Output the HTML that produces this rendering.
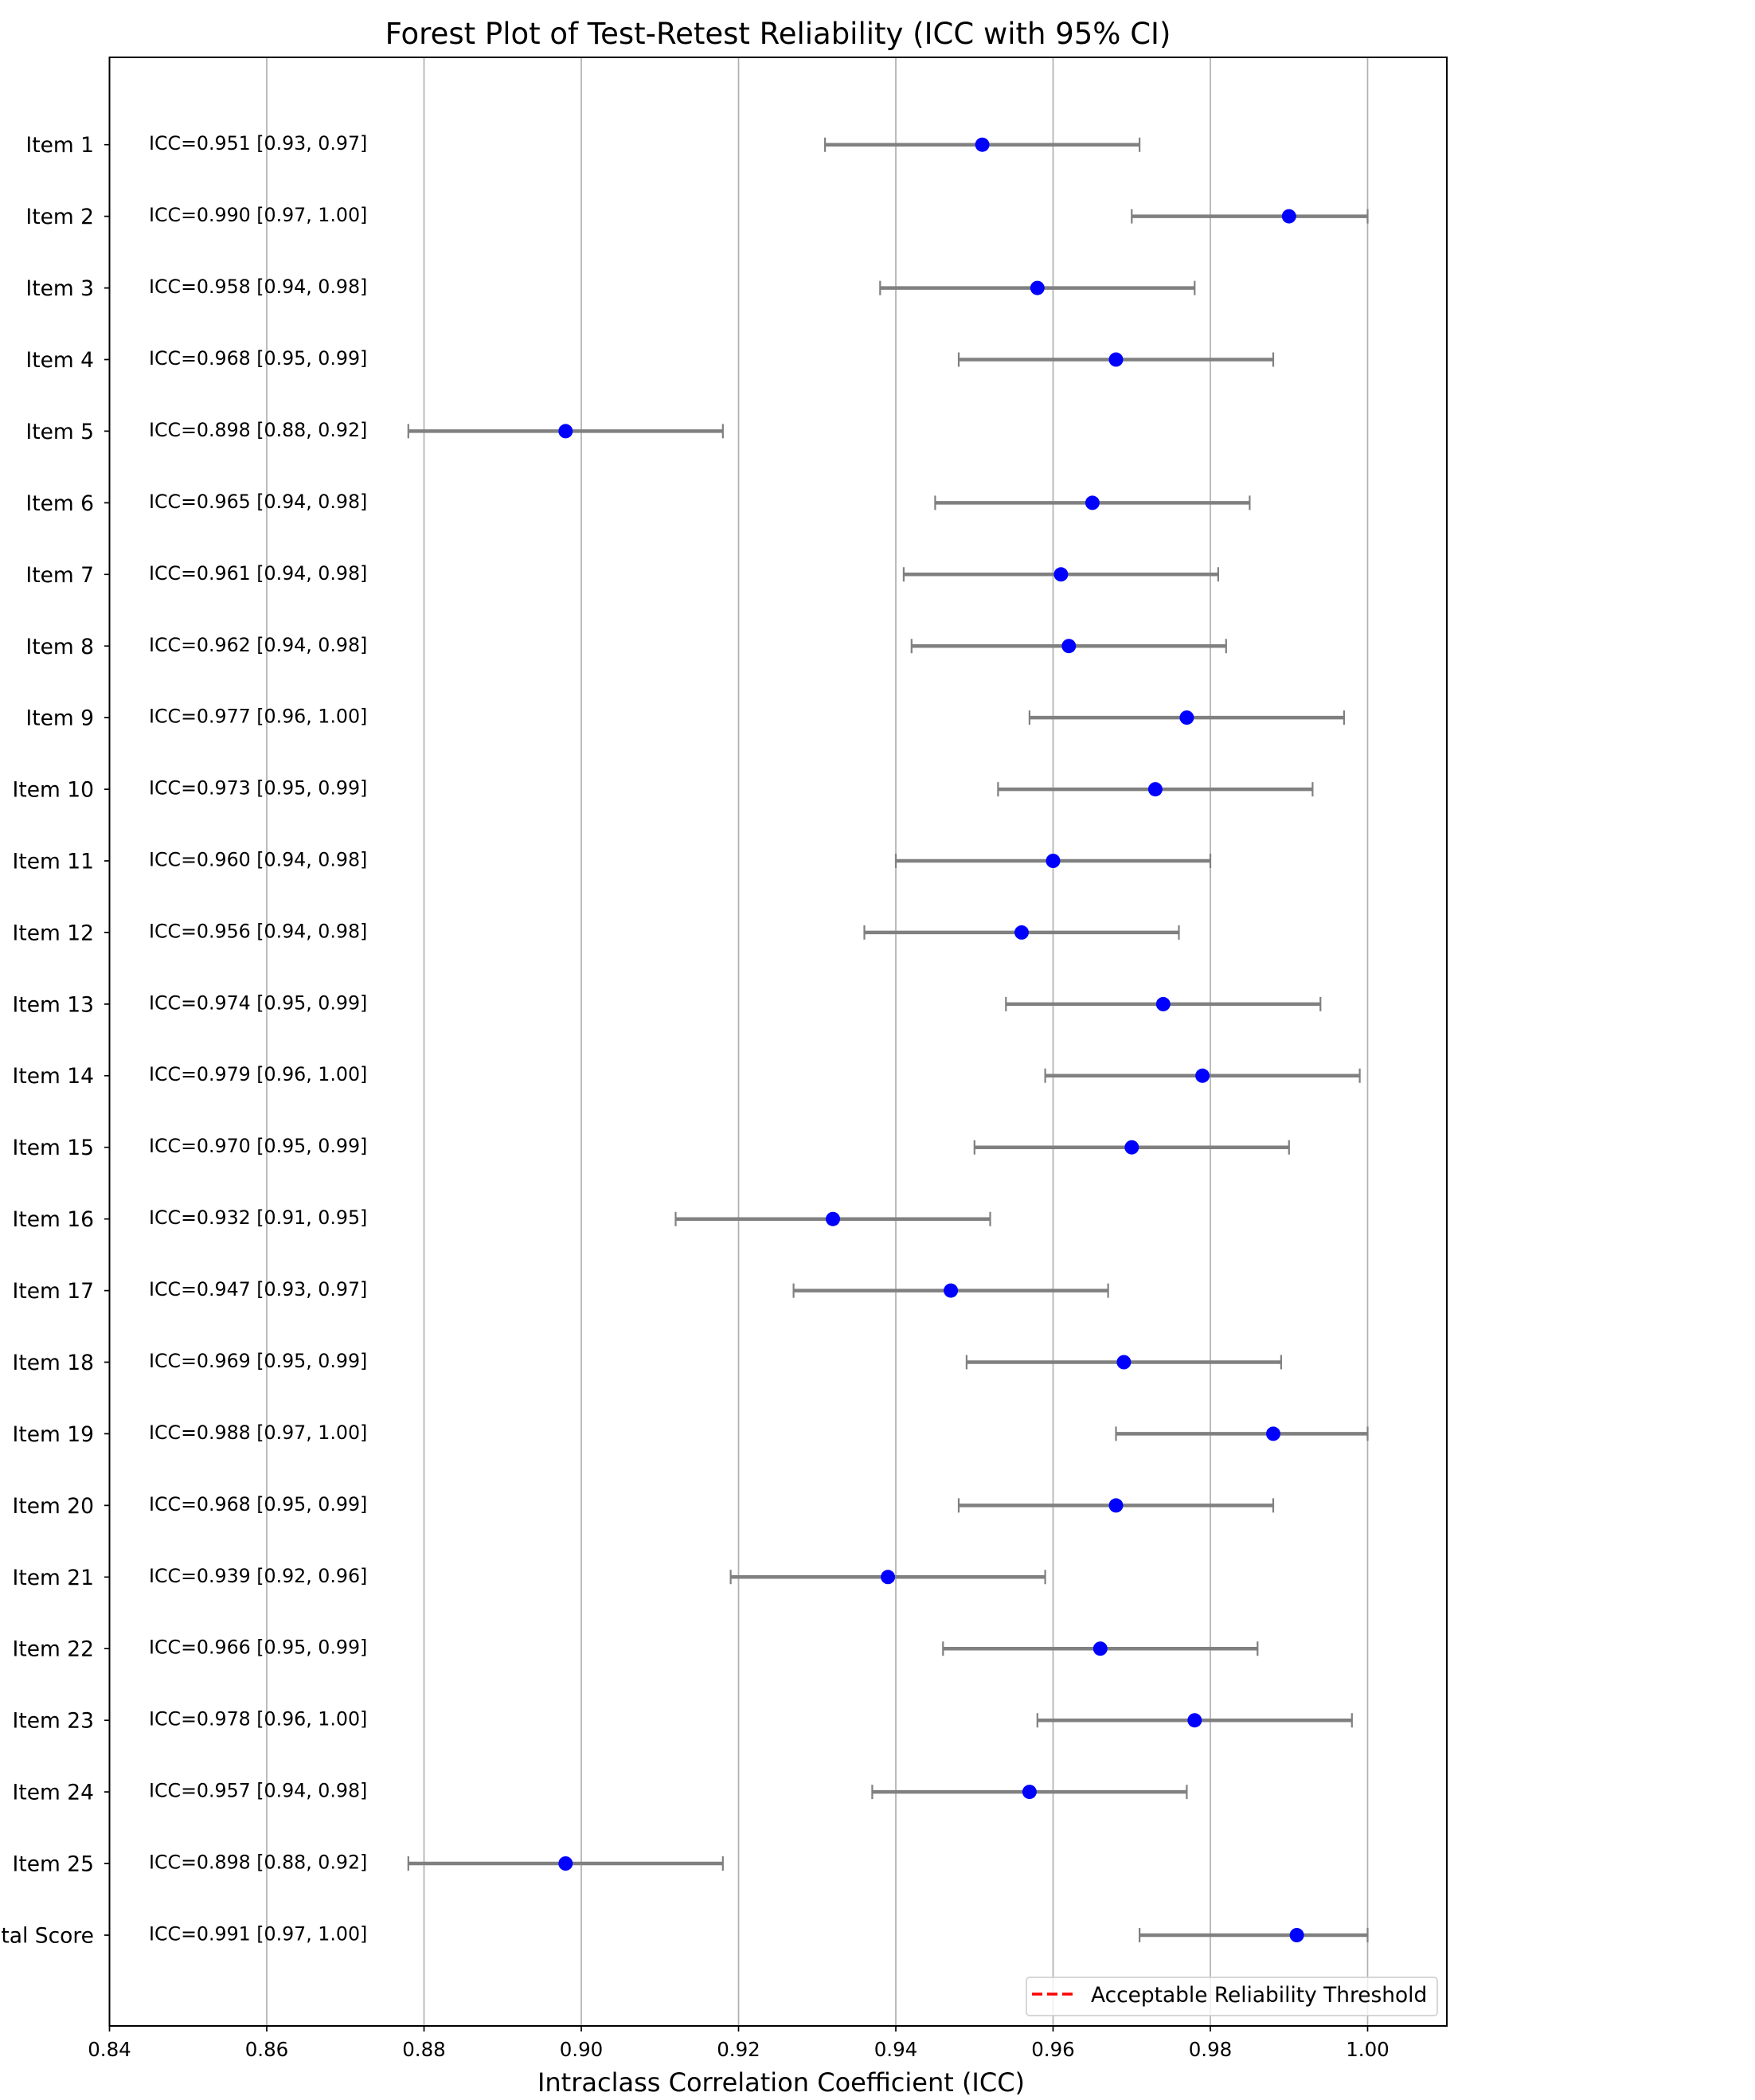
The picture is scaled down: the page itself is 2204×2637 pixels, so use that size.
<!DOCTYPE html>
<html><head><meta charset="utf-8"><style>
html,body{margin:0;padding:0;background:#fff;}
svg{display:block;font-family:"DejaVu Sans","Liberation Sans",sans-serif;}
</style></head><body>
<svg width="2204" height="2637" viewBox="0 0 2204 2637" xmlns="http://www.w3.org/2000/svg">
<rect width="2204" height="2637" fill="#fff"/>
<text x="977" y="55" font-size="37" text-anchor="middle" fill="#000">Forest Plot of Test-Retest Reliability (ICC with 95% CI)</text>
<g stroke="#b0b0b0" stroke-width="1.7">
<line x1="335" y1="72" x2="335" y2="2544"/><line x1="532.5" y1="72" x2="532.5" y2="2544"/>
<line x1="730" y1="72" x2="730" y2="2544"/><line x1="927.5" y1="72" x2="927.5" y2="2544"/>
<line x1="1125" y1="72" x2="1125" y2="2544"/><line x1="1322.5" y1="72" x2="1322.5" y2="2544"/>
<line x1="1520" y1="72" x2="1520" y2="2544"/><line x1="1717.5" y1="72" x2="1717.5" y2="2544"/>
</g>
<g stroke="#000" stroke-width="1.7">
<line x1="137.5" y1="2544" x2="137.5" y2="2551"/><line x1="335" y1="2544" x2="335" y2="2551"/>
<line x1="532.5" y1="2544" x2="532.5" y2="2551"/><line x1="730" y1="2544" x2="730" y2="2551"/>
<line x1="927.5" y1="2544" x2="927.5" y2="2551"/><line x1="1125" y1="2544" x2="1125" y2="2551"/>
<line x1="1322.5" y1="2544" x2="1322.5" y2="2551"/><line x1="1520" y1="2544" x2="1520" y2="2551"/>
<line x1="1717.5" y1="2544" x2="1717.5" y2="2551"/>
</g>
<g font-size="24.5" text-anchor="middle" fill="#000">
<text x="137.5" y="2582">0.84</text><text x="335" y="2582">0.86</text><text x="532.5" y="2582">0.88</text>
<text x="730" y="2582">0.90</text><text x="927.5" y="2582">0.92</text><text x="1125" y="2582">0.94</text>
<text x="1322.5" y="2582">0.96</text><text x="1520" y="2582">0.98</text><text x="1717.5" y="2582">1.00</text>
</g>
<text x="981" y="2626" font-size="32" text-anchor="middle" fill="#000">Intraclass Correlation Coefficient (ICC)</text>

<g stroke="#808080" stroke-width="4.5">
<line x1="1036.1" y1="181.7" x2="1431.1" y2="181.7"/>
<line x1="1421.3" y1="271.6" x2="1717.5" y2="271.6"/>
<line x1="1105.3" y1="361.6" x2="1500.3" y2="361.6"/>
<line x1="1204" y1="451.5" x2="1599" y2="451.5"/>
<line x1="512.8" y1="541.4" x2="907.8" y2="541.4"/>
<line x1="1174.4" y1="631.4" x2="1569.4" y2="631.4"/>
<line x1="1134.9" y1="721.3" x2="1529.9" y2="721.3"/>
<line x1="1144.8" y1="811.2" x2="1539.8" y2="811.2"/>
<line x1="1292.9" y1="901.1" x2="1687.9" y2="901.1"/>
<line x1="1253.4" y1="991.1" x2="1648.4" y2="991.1"/>
<line x1="1125" y1="1081" x2="1520" y2="1081"/>
<line x1="1085.5" y1="1170.9" x2="1480.5" y2="1170.9"/>
<line x1="1263.3" y1="1260.9" x2="1658.3" y2="1260.9"/>
<line x1="1312.6" y1="1350.8" x2="1707.6" y2="1350.8"/>
<line x1="1223.8" y1="1440.7" x2="1618.8" y2="1440.7"/>
<line x1="848.5" y1="1530.7" x2="1243.5" y2="1530.7"/>
<line x1="996.6" y1="1620.6" x2="1391.6" y2="1620.6"/>
<line x1="1213.9" y1="1710.5" x2="1608.9" y2="1710.5"/>
<line x1="1401.5" y1="1800.4" x2="1717.5" y2="1800.4"/>
<line x1="1204" y1="1890.4" x2="1599" y2="1890.4"/>
<line x1="917.6" y1="1980.3" x2="1312.6" y2="1980.3"/>
<line x1="1184.3" y1="2070.2" x2="1579.3" y2="2070.2"/>
<line x1="1302.8" y1="2160.2" x2="1697.8" y2="2160.2"/>
<line x1="1095.4" y1="2250.1" x2="1490.4" y2="2250.1"/>
<line x1="512.8" y1="2340" x2="907.8" y2="2340"/>
<line x1="1431.1" y1="2430" x2="1717.5" y2="2430"/>
</g>
<g stroke="#808080" stroke-width="2.2">
<path d="M1036.1 172.7v18M1431.1 172.7v18M1421.3 262.6v18M1717.5 262.6v18M1105.3 352.6v18M1500.3 352.6v18M1204 442.5v18M1599 442.5v18M512.8 532.4v18M907.8 532.4v18M1174.4 622.4v18M1569.4 622.4v18M1134.9 712.3v18M1529.9 712.3v18M1144.8 802.2v18M1539.8 802.2v18M1292.9 892.1v18M1687.9 892.1v18M1253.4 982.1v18M1648.4 982.1v18M1125 1072v18M1520 1072v18M1085.5 1161.9v18M1480.5 1161.9v18M1263.3 1251.9v18M1658.3 1251.9v18M1312.6 1341.8v18M1707.6 1341.8v18M1223.8 1431.7v18M1618.8 1431.7v18M848.5 1521.7v18M1243.5 1521.7v18M996.6 1611.6v18M1391.6 1611.6v18M1213.9 1701.5v18M1608.9 1701.5v18M1401.5 1791.4v18M1717.5 1791.4v18M1204 1881.4v18M1599 1881.4v18M917.6 1971.3v18M1312.6 1971.3v18M1184.3 2061.2v18M1579.3 2061.2v18M1302.8 2151.2v18M1697.8 2151.2v18M1095.4 2241.1v18M1490.4 2241.1v18M512.8 2331v18M907.8 2331v18M1431.1 2421v18M1717.5 2421v18"/>
</g>
<g fill="#0000ff">
<circle cx="1233.6" cy="181.7" r="9"/><circle cx="1618.8" cy="271.6" r="9"/><circle cx="1302.8" cy="361.6" r="9"/>
<circle cx="1401.5" cy="451.5" r="9"/><circle cx="710.3" cy="541.4" r="9"/><circle cx="1371.9" cy="631.4" r="9"/>
<circle cx="1332.4" cy="721.3" r="9"/><circle cx="1342.3" cy="811.2" r="9"/><circle cx="1490.4" cy="901.1" r="9"/>
<circle cx="1450.9" cy="991.1" r="9"/><circle cx="1322.5" cy="1081" r="9"/><circle cx="1283" cy="1170.9" r="9"/>
<circle cx="1460.8" cy="1260.9" r="9"/><circle cx="1510.1" cy="1350.8" r="9"/><circle cx="1421.3" cy="1440.7" r="9"/>
<circle cx="1046" cy="1530.7" r="9"/><circle cx="1194.1" cy="1620.6" r="9"/><circle cx="1411.4" cy="1710.5" r="9"/>
<circle cx="1599" cy="1800.4" r="9"/><circle cx="1401.5" cy="1890.4" r="9"/><circle cx="1115.1" cy="1980.3" r="9"/>
<circle cx="1381.8" cy="2070.2" r="9"/><circle cx="1500.3" cy="2160.2" r="9"/><circle cx="1292.9" cy="2250.1" r="9"/>
<circle cx="710.3" cy="2340" r="9"/><circle cx="1628.6" cy="2430" r="9"/>
</g>
<g font-size="26.5" text-anchor="end" fill="#000">
<text x="118" y="191">Item 1</text><text x="118" y="281">Item 2</text><text x="118" y="371">Item 3</text>
<text x="118" y="461">Item 4</text><text x="118" y="551">Item 5</text><text x="118" y="641">Item 6</text>
<text x="118" y="731">Item 7</text><text x="118" y="821">Item 8</text><text x="118" y="910.5">Item 9</text>
<text x="118" y="1000.5">Item 10</text><text x="118" y="1090.5">Item 11</text><text x="118" y="1180.5">Item 12</text>
<text x="118" y="1270.5">Item 13</text><text x="118" y="1360">Item 14</text><text x="118" y="1450">Item 15</text>
<text x="118" y="1540">Item 16</text><text x="118" y="1630">Item 17</text><text x="118" y="1720">Item 18</text>
<text x="118" y="1810">Item 19</text><text x="118" y="1900">Item 20</text><text x="118" y="1990">Item 21</text>
<text x="118" y="2079.5">Item 22</text><text x="118" y="2169.5">Item 23</text><text x="118" y="2259.5">Item 24</text>
<text x="118" y="2349.5">Item 25</text><text x="118" y="2439.5">Total Score</text>
</g>
<g stroke="#000" stroke-width="1.7">
<path d="M131 181.7h7M131 271.6h7M131 361.6h7M131 451.5h7M131 541.4h7M131 631.4h7M131 721.3h7M131 811.2h7M131 901.1h7M131 991.1h7M131 1081h7M131 1170.9h7M131 1260.9h7M131 1350.8h7M131 1440.7h7M131 1530.7h7M131 1620.6h7M131 1710.5h7M131 1800.4h7M131 1890.4h7M131 1980.3h7M131 2070.2h7M131 2160.2h7M131 2250.1h7M131 2340h7M131 2430h7"/>
</g>
<g font-size="23.7" fill="#000">
<text x="187" y="188">ICC=0.951 [0.93, 0.97]</text><text x="187" y="278">ICC=0.990 [0.97, 1.00]</text>
<text x="187" y="368">ICC=0.958 [0.94, 0.98]</text><text x="187" y="458">ICC=0.968 [0.95, 0.99]</text>
<text x="187" y="548">ICC=0.898 [0.88, 0.92]</text><text x="187" y="638">ICC=0.965 [0.94, 0.98]</text>
<text x="187" y="728">ICC=0.961 [0.94, 0.98]</text><text x="187" y="818">ICC=0.962 [0.94, 0.98]</text>
<text x="187" y="907.5">ICC=0.977 [0.96, 1.00]</text><text x="187" y="997.5">ICC=0.973 [0.95, 0.99]</text>
<text x="187" y="1087.5">ICC=0.960 [0.94, 0.98]</text><text x="187" y="1177.5">ICC=0.956 [0.94, 0.98]</text>
<text x="187" y="1267.5">ICC=0.974 [0.95, 0.99]</text><text x="187" y="1357">ICC=0.979 [0.96, 1.00]</text>
<text x="187" y="1447">ICC=0.970 [0.95, 0.99]</text><text x="187" y="1537">ICC=0.932 [0.91, 0.95]</text>
<text x="187" y="1627">ICC=0.947 [0.93, 0.97]</text><text x="187" y="1717">ICC=0.969 [0.95, 0.99]</text>
<text x="187" y="1807">ICC=0.988 [0.97, 1.00]</text><text x="187" y="1897">ICC=0.968 [0.95, 0.99]</text>
<text x="187" y="1987">ICC=0.939 [0.92, 0.96]</text><text x="187" y="2076.5">ICC=0.966 [0.95, 0.99]</text>
<text x="187" y="2166.5">ICC=0.978 [0.96, 1.00]</text><text x="187" y="2256.5">ICC=0.957 [0.94, 0.98]</text>
<text x="187" y="2346.5">ICC=0.898 [0.88, 0.92]</text><text x="187" y="2436.5">ICC=0.991 [0.97, 1.00]</text>
</g>
<rect x="1289" y="2483" width="516" height="48" rx="4" fill="#fff" fill-opacity="0.8" stroke="#d0d0d0" stroke-width="1.7"/>
<line x1="1296" y1="2504" x2="1352" y2="2504" stroke="#ff0000" stroke-width="3.5" stroke-dasharray="13,6"/>
<text x="1370" y="2514" font-size="26.4" fill="#000">Acceptable Reliability Threshold</text>
<rect x="137.5" y="72" width="1679.5" height="2472" fill="none" stroke="#000" stroke-width="2"/>
</svg>
</body></html>
